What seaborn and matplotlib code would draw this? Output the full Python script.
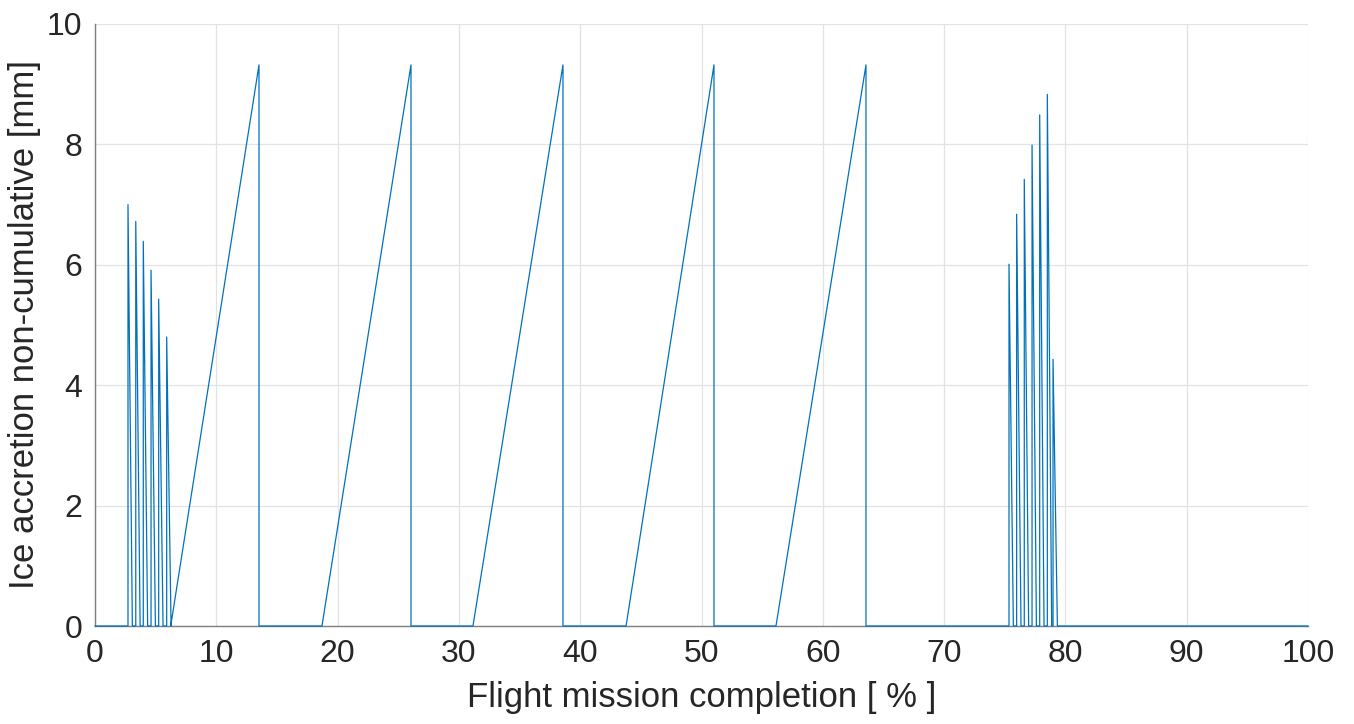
import numpy as np
import pandas as pd
import matplotlib
matplotlib.use("Agg")
import matplotlib.pyplot as plt
import seaborn as sns

# ---- data ----
# short shedding spikes (early cluster)
spikes1_x = [2.72, 3.36, 3.98, 4.62, 5.25, 5.91]
spikes1_h = [7.00, 6.72, 6.39, 5.91, 5.43, 4.80]
# long accretion ramps
ramp_start = [6.24, 18.71, 31.16, 43.78, 56.14]
ramp_peak_x = [13.52, 26.05, 38.58, 51.03, 63.56]
ramp_peak_h = [9.32, 9.32, 9.32, 9.32, 9.32]
# short shedding spikes (late cluster)
spikes2_x = [75.35, 75.98, 76.61, 77.25, 77.88, 78.51, 78.98]
spikes2_h = [6.01, 6.84, 7.42, 7.99, 8.49, 8.83, 4.43]
spike_width = 0.36
x_end = 100.0

# ---- build the polyline ----
xs, ys = [0.0], [0.0]
for x, h in zip(spikes1_x, spikes1_h):
    xs += [x, x, x + spike_width]
    ys += [0.0, h, 0.0]
for s, p, h in zip(ramp_start, ramp_peak_x, ramp_peak_h):
    xs += [s, p, p]
    ys += [0.0, h, 0.0]
for x, h in zip(spikes2_x, spikes2_h):
    xs += [x, x, x + spike_width]
    ys += [0.0, h, 0.0]
xs.append(x_end)
ys.append(0.0)
df = pd.DataFrame({"x": xs, "y": ys, "order": np.arange(len(xs))})

sns.set_theme(style="white")
plt.rcParams["font.family"] = ["Liberation Sans", "DejaVu Sans"]

fig = plt.figure(figsize=(13.54, 7.24), dpi=100)
ax = fig.add_axes([95 / 1354, 1 - 626 / 724, (1308 - 95) / 1354, (626 - 24) / 724])

sns.lineplot(data=df, x="x", y="y", sort=False, estimator=None,
             color="#0072BD", linewidth=0.9, ax=ax, zorder=4)
for ln in ax.get_lines():
    ln.set_clip_on(False)

ax.set_xlim(0, 100)
ax.set_ylim(0, 10)
ax.set_xticks(np.arange(0, 101, 10))
ax.set_yticks(np.arange(0, 11, 2))
ax.grid(True, color="#e3e3e3", linewidth=0.9, zorder=0)
ax.set_axisbelow(True)

for side in ["top", "right"]:
    ax.spines[side].set_visible(False)
for side in ["left", "bottom"]:
    ax.spines[side].set_color("#7f7f7f")
    ax.spines[side].set_linewidth(1.0)

ax.tick_params(axis="both", direction="in", length=10, width=1.0,
               color="#262626", labelsize=23, labelcolor="#262626", pad=9)

ax.set_xlabel("Flight mission completion [ % ]", fontsize=25, color="#262626", labelpad=9)
ax.set_ylabel("Ice accretion non-cumulative [mm]", fontsize=25, color="#262626", labelpad=4)

fig.savefig("out.png", dpi=100, facecolor="white")
